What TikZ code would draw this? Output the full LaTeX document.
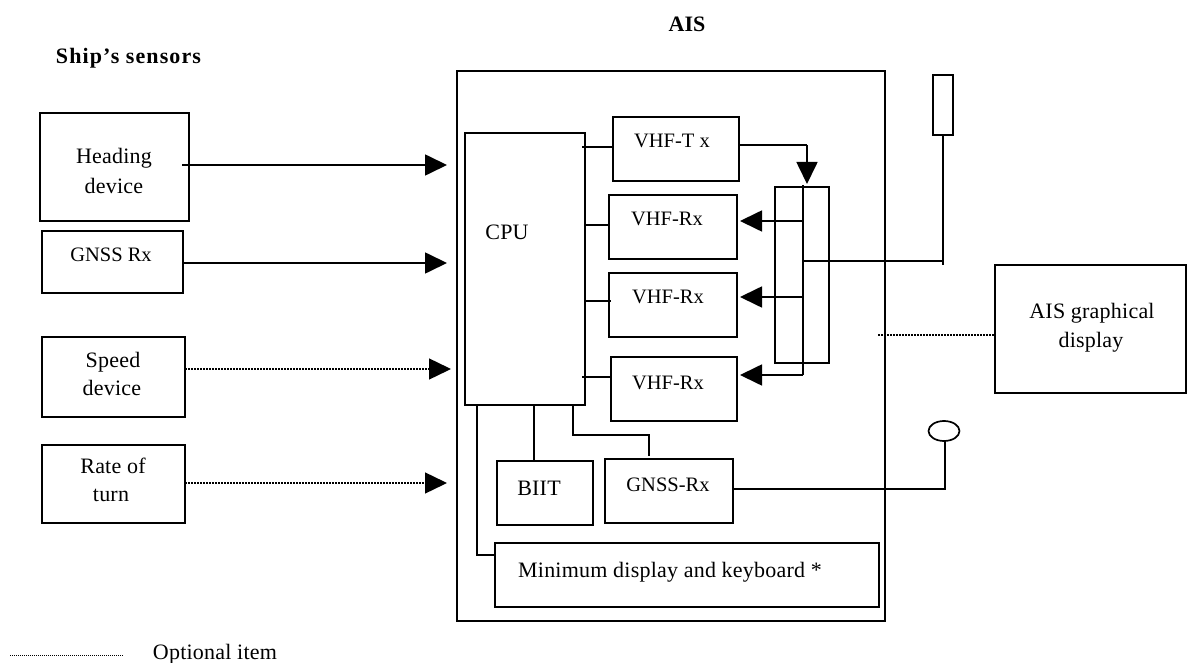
\documentclass[tikz,border=0pt]{standalone}
\usepackage{fontspec}
\setmainfont{Liberation Serif}
\usetikzlibrary{arrows.meta,calc,shapes.geometric}
\tikzset{
  x=1pt,y=-1pt,
  boxn/.style={draw=black,line width=1.7pt,rectangle,inner sep=0pt,outer sep=0pt},
  lbl/.style={anchor=base,inner sep=0pt,font=\fontsize{20.5}{24}\selectfont},
  lbs/.style={anchor=base,inner sep=0pt,font=\fontsize{22}{24}\selectfont\addfontfeature{LetterSpace=1}},
  ttl/.style={anchor=base,inner sep=0pt,font=\fontsize{22}{24}\selectfont\bfseries\addfontfeature{LetterSpace=#1}},
  wire/.style={line width=1.7pt,line cap=butt},
  arr/.style={line width=1.7pt,-{Triangle[length=22pt,width=21pt]}},
  dots/.style={line width=1.4pt,dash pattern=on 1.5pt off 1.5pt},
  thindots/.style={line width=1pt,dash pattern=on 1pt off 1pt},
  darr/.style={dots,-{Triangle[length=22pt,width=21pt,sep=0pt]}},
}
\newcommand{\bx}[5]{\node[boxn,minimum width=#4-#2,minimum height=#5-#3] (#1) at ({(#2+#4)/2},{(#3+#5)/2}) {};}
\begin{document}
\begin{tikzpicture}
\useasboundingbox[fill=white] (0,0) rectangle (1187,663);
% boxes
\bx{outer}{457}{71}{885}{621}
\bx{cpu}{465}{133}{585}{405}
\bx{tx}{613}{117}{739}{181}
\bx{rxa}{609}{195}{737}{259}
\bx{rxb}{609}{273}{737}{337}
\bx{rxc}{611}{357}{737}{421}
\bx{split}{775}{187}{829}{363}
\bx{ant}{933}{75}{953}{135}
\bx{biit}{497}{461}{593}{525}
\bx{grx}{605}{459}{733}{523}
\bx{mink}{495}{543}{879}{607}
\bx{hd}{40}{113}{189}{221}
\bx{gn}{42}{231}{183}{293}
\bx{sp}{42}{337}{185}{417}
\bx{rt}{42}{445}{185}{523}
\bx{disp}{995}{265}{1186}{393}
\node[draw=black,line width=1.7pt,ellipse,minimum width=31pt,minimum height=20pt,inner sep=0pt,outer sep=0pt] (gant) at (944,431) {};
% labels
\node[ttl=0] (taisl) at (687,32) {AIS};
\node[ttl=5] (tship) at (128.5,64) {Ship’s sensors};
\node[lbs] (t1) at (114,164) {Heading};
\node[lbs] (t2) at (114,194) {device};
\node[lbl] (t3) at (111,262) {GNSS Rx};
\node[lbs] (t4) at (113,367) {Speed};
\node[lbs] (t5) at (112,395) {device};
\node[lbs] (t6) at (113,473) {Rate of};
\node[lbs] (t7) at (111,501) {turn};
\node[lbs] (t8) at (507,240) {CPU};
\node[lbl] (t9) at (672,148) {VHF-T x};
\node[lbl] (t10) at (667,226) {VHF-Rx};
\node[lbl] (t11) at (668,304) {VHF-Rx};
\node[lbl] (t12) at (668,389) {VHF-Rx};
\node[lbs] (t13) at (539,495) {BIIT};
\node[lbl] (t14) at (668,491) {GNSS-Rx};
\node[lbs] (t15) at (670,577) {Minimum display and keyboard *};
\node[lbs] (t16) at (1092,319) {AIS graphical};
\node[lbs] (t17) at (1091,347) {display};
\node[lbs] (t18) at (215,659) {Optional item};
% free ends
\coordinate (hdtip) at (447,165);
\coordinate (gntip) at (447,263);
\coordinate (sptip) at (451,369);
\coordinate (rttip) at (447,483);
\coordinate (busT) at (803,185);
\coordinate (busB) at (803,375);
\coordinate (rfj) at (803,261);
\coordinate (antB) at (943,265);
\coordinate (antJ) at (943,261);
\coordinate (txc) at (807,145);
\coordinate (txtip) at (807,184);
\coordinate (ra) at (803,221);
\coordinate (rb) at (803,297);
\coordinate (rc) at (803,375);
\coordinate (leg1) at (10,655);
\coordinate (leg2) at (123,655);
\coordinate (dotl) at (878,335);
\coordinate (cl1) at (582,147);
\coordinate (cl2) at (585,225);
\coordinate (cl3) at (585,301);
\coordinate (cl4) at (582,377);
\coordinate (cb1) at (477,405);
\coordinate (cb2) at (534,405);
\coordinate (cb3) at (573,405);
\coordinate (grxtop) at (649,456);
\coordinate (gr1) at (733,489);
\coordinate (gr2) at (945,489);
\coordinate (mj) at (477,555);
% sensors to AIS
\draw[arr] (182,165) -- (hdtip);
\draw[arr] (gn.east |- gntip) -- (gntip);
\draw[darr] (sp.east |- sptip) -- (sptip);
\draw[darr] (rt.east |- rttip) -- (rttip);
% cpu links
\draw[wire] (cl1) -- (tx.west |- cl1);
\draw[wire] (cl2) -- (rxa.west |- cl2);
\draw[wire] (cl3) -- (611,301);
\draw[wire] (cl4) -- (rxc.west |- cl4);
\draw[wire] (cb1) -- (mj) -- (mink.west |- mj);
\draw[wire] (cb2) -- (cb2 |- biit.north);
\draw[wire] (cb3) -- (573,435) -- (649,435) -- (grxtop);
% splitter
\draw[wire] (busT) -- (busB);
\draw[wire] (tx.east |- txc) -- (txc);
\draw[arr] (txc) -- (txtip);
\draw[arr] (ra) -- (740,221);
\draw[arr] (rb) -- (740,297);
\draw[arr] (rc) -- (740,375);
% antennas
\draw[wire] (rfj) -- (antJ);
\draw[wire] (ant.south) -- (antB);
\draw[wire] (gr1) -- (gr2) -- (gr2 |- gant.south);
% display & legend
\draw[dots] (dotl) -- (disp.west |- dotl);
\draw[thindots] (leg1) -- (leg2);
\end{tikzpicture}
\end{document}
